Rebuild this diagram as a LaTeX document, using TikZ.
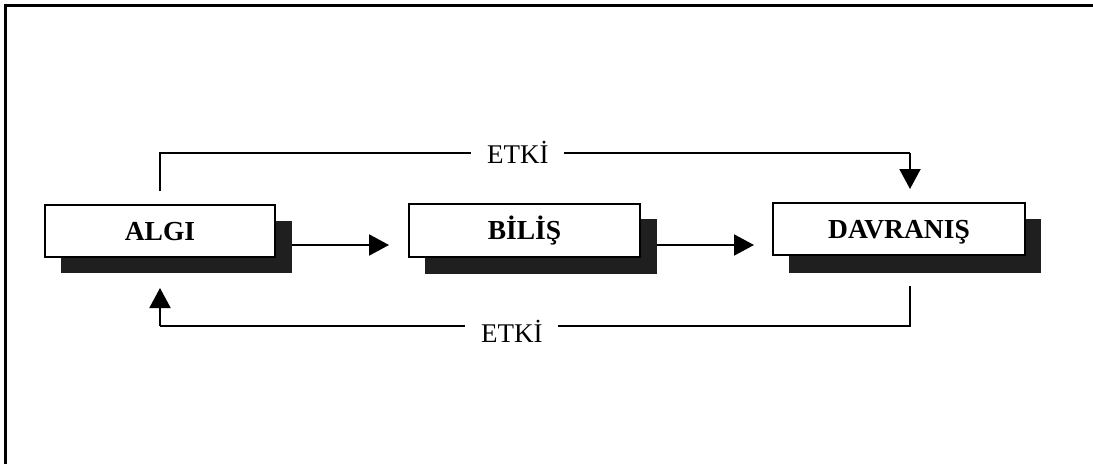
\documentclass[tikz,border=0pt]{standalone}
\usepackage{fontspec}
\setmainfont{Liberation Serif}
\usetikzlibrary{arrows.meta,calc}
\begin{document}
\begin{tikzpicture}[x=1pt,y=-1pt,
  boxnode/.style={draw=black,line width=2pt,fill=white,inner sep=0pt,text height=18.2pt,text depth=0pt,font=\fontsize{27.5}{30}\selectfont\bfseries},
  shadownode/.style={fill=black!88,draw=none,inner sep=0pt},
  conn/.style={line width=2pt,-{Triangle[length=20pt,width=21pt]}},
  plain/.style={line width=2pt},
  lbl/.style={fill=white,inner xsep=16pt,inner ysep=2pt,font=\fontsize{27}{30}\selectfont}
]
\useasboundingbox (0,0) rectangle (1093,464);
% frame (only top and left visible)
\draw[line width=3pt] (1093,5.5) -- (5.5,5.5) -- (5.5,464);
% shadows
\node[shadownode,minimum width=231pt,minimum height=52pt] (algis) at (176.5,247) {};
\node[shadownode,minimum width=232pt,minimum height=55pt] (biliss) at (541,246.5) {};
\node[shadownode,minimum width=252pt,minimum height=54pt] (davraniss) at (915,246) {};
% boxes
\node[boxnode,minimum width=230pt,minimum height=52pt] (algi) at (160,231) {ALGI};
\node[boxnode,minimum width=231pt,minimum height=53pt] (bilis) at (524.5,230.5) {BİLİŞ};
\node[boxnode,minimum width=252pt,minimum height=52pt] (davranis) at (899,229) {DAVRANIŞ};
% horizontal arrows
\draw[conn] (algis.east |- 0,245) -- ($(bilis.west |- 0,245)+(-19,0)$);
\draw[conn] (biliss.east |- 0,245) -- ($(davranis.west |- 0,245)+(-18,0)$);
% top feedback
\coordinate (tl) at (algi.north |- 0,153);
\coordinate (tr) at ($(davranis.north |- 0,153)+(11,0)$);
\draw[plain] ($(algi.north)+(0,-13)$) -- (tl) -- (tr);
\draw[conn] (tr) -- ($(davranis.north)+(11,-13)$);
\node[lbl,anchor=base] (etki1) at ($(tl)!0.477!(tr)+(0,10)$) {ETKİ};
% bottom feedback
\coordinate (br) at ($(davranis.south |- 0,326)+(11,0)$);
\coordinate (bl) at (algi.south |- 0,326);
\draw[plain] ($(davranis.south)+(11,30)$) -- (br) -- (bl);
\draw[conn] (bl) -- ($(algi.south)+(0,30)$);
\node[lbl,anchor=base] (etki2) at ($(bl)!0.469!(br)+(0,16)$) {ETKİ};
\end{tikzpicture}
\end{document}
